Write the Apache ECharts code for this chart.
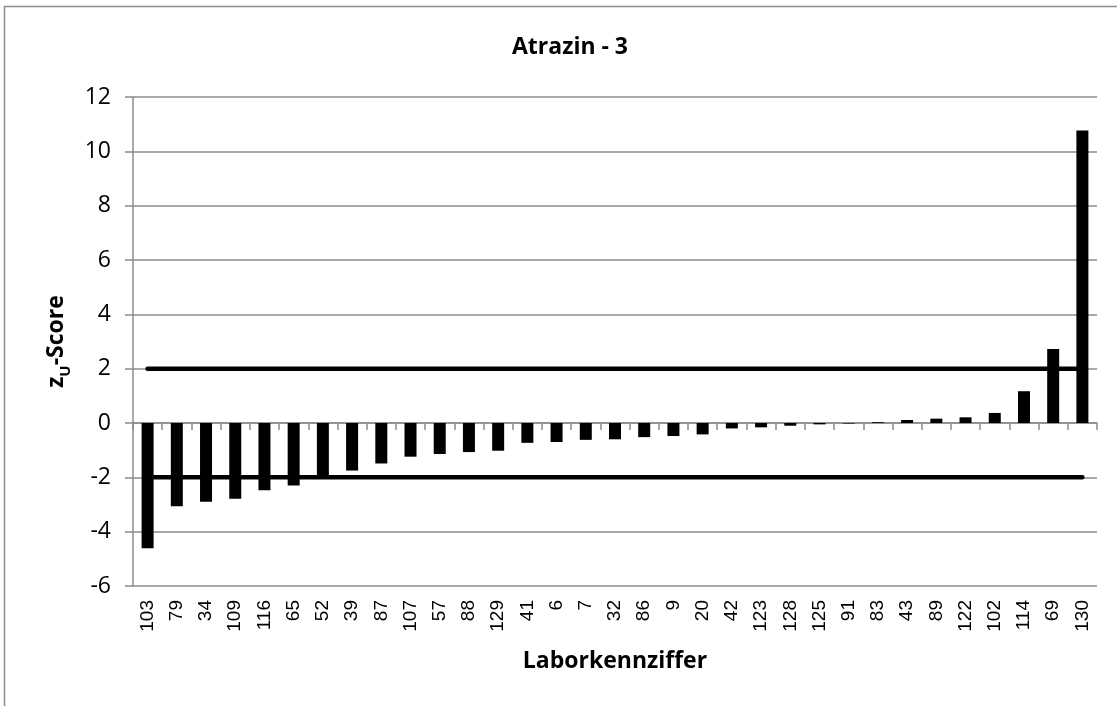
<!DOCTYPE html>
<html>
<head>
<meta charset="utf-8">
<script src="https://cdn.jsdelivr.net/npm/echarts@6/dist/echarts.min.js"></script>
<style>
html,body{margin:0;padding:0;background:#fff;}
#chart{width:1117px;height:706px;}
</style>
</head>
<body>
<div id="chart"></div>
<script>
const categories = ['103','79','34','109','116','65','52','39','87','107','57','88','129','41','6','7','32','86','9','20','42','123','128','125','91','83','43','89','122','102','114','69','130'];
const zScores = [-4.61,-3.06,-2.90,-2.79,-2.48,-2.30,-2.00,-1.75,-1.49,-1.24,-1.14,-1.07,-1.02,-0.73,-0.70,-0.62,-0.60,-0.52,-0.48,-0.42,-0.20,-0.16,-0.10,-0.05,-0.02,0.03,0.11,0.16,0.21,0.37,1.17,2.72,10.77];
const upperLimit = categories.map(() => 2);
const lowerLimit = categories.map(() => -2);
const yTicks = {min: -6, max: 12, interval: 2};

const FONT = '"Open Sans", sans-serif';
const GRAY = '#8c8c8c';

const chart = echarts.init(document.getElementById('chart'));
chart.setOption({
  animation: false,
  backgroundColor: '#fff',
  graphic: [{
    type: 'rect', z: -10,
    shape: {x: 4.5, y: 6.5, width: 1200, height: 800},
    style: {fill: null, stroke: GRAY, lineWidth: 1.5}
  }],
  title: {
    text: 'Atrazin - 3',
    left: 565, top: 31, textAlign: 'center',
    textStyle: {fontFamily: FONT, fontWeight: 'bold', fontSize: 23, color: '#000'}
  },
  grid: {left: 133, right: 20, top: 97, bottom: 120, containLabel: false},
  xAxis: [{
    type: 'category', data: categories, position: 'bottom',
    axisLine: {show: true, onZero: true, lineStyle: {color: GRAY, width: 1.5}},
    axisTick: {show: true, length: 7, lineStyle: {color: GRAY, width: 1.5}},
    axisLabel: {show: false},
    splitLine: {show: false}
  }, {
    type: 'category', data: categories, position: 'bottom',
    axisLine: {show: false, onZero: false},
    axisTick: {show: false},
    axisLabel: {rotate: 90, margin: 14, fontFamily: '"Liberation Sans", Arial, sans-serif', fontSize: 19, color: '#000', interval: 0},
    name: 'Laborkennziffer', nameLocation: 'middle', nameGap: 64,
    nameTextStyle: {fontFamily: FONT, fontWeight: 'bold', fontSize: 23, color: '#000'}
  }],
  yAxis: {
    type: 'value', min: yTicks.min, max: yTicks.max, interval: yTicks.interval,
    axisLine: {show: true, lineStyle: {color: GRAY, width: 1.5}},
    axisTick: {show: true, length: 8, lineStyle: {color: GRAY, width: 1.5}},
    axisLabel: {margin: 22, fontFamily: FONT, fontSize: 23, color: '#000'},
    splitLine: {show: true, lineStyle: {color: GRAY, width: 1.5}},
    name: '{a|z}{b|U}{a|-Score}', nameLocation: 'middle', nameGap: 60,
    nameTextStyle: {
      rich: {
        a: {fontFamily: FONT, fontWeight: 'bold', fontSize: 23, color: '#000', lineHeight: 34, verticalAlign: 'middle'},
        b: {fontFamily: FONT, fontWeight: 'bold', fontSize: 15, color: '#000', lineHeight: 16, verticalAlign: 'bottom'}
      }
    }
  },
  series: [{
    type: 'bar', data: zScores, xAxisIndex: 0, barWidth: 12,
    itemStyle: {color: '#000'}, z: 2
  }, {
    type: 'line', data: upperLimit, xAxisIndex: 0, symbol: 'none',
    lineStyle: {color: '#000', width: 4.5, cap: 'round'}, z: 3
  }, {
    type: 'line', data: lowerLimit, xAxisIndex: 0, symbol: 'none',
    lineStyle: {color: '#000', width: 4.5, cap: 'round'}, z: 3
  }]
});
</script>
</body>
</html>
